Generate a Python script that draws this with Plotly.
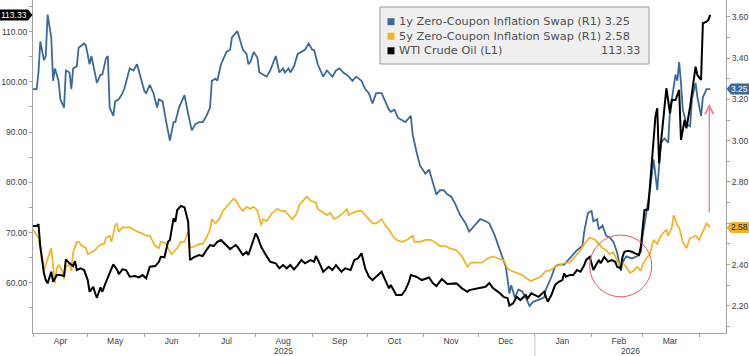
import pandas as pd
import plotly.graph_objects as go

# ---------------- data ----------------
START = pd.Timestamp("2025-04-01")
END = pd.Timestamp("2026-04-15 16:00")

BLUE_DAYS = [0,2,3,4,6,7,8,10,11,12,14,15,17,18,20,21,22,24,25,28,29,31,32,34,35,37,38,40,41,42,44,45,47,49,50,53,55,57,59,61,62,64,66,68,69,71,73,75,77,78,80,81,83,85,87,89,91,93,95,97,98,100,101,103,106,108,109,112,113,115,117,118,119,121,123,124,126,128,130,133,135,137,138,140,141,143,145,147,149,151,153,154,156,159,161,162,164,166,168,170,173,175,177,180,182,184,186,188,191,193,195,196,198,200,202,204,207,208,210,212,215,217,218,221,223,225,227,229,231,234,237,239,242,245,248,250,253,255,257,259,260,261,262,264,266,268,270,272,274,277,280,281,284,286,288,291,292,295,298,301,302,304,306,307,309,310,312,314,316,318,320,322,323,325,328,331,333,334,336,338,340,341,342,344,346,348,349,350,352,353,354,355,356,358,360,361,363,364,366,367,369,371]
BLUE_VALS = [3.25,3.25,3.33,3.48,3.39,3.41,3.61,3.50,3.29,3.35,3.29,3.20,3.16,3.34,3.33,3.25,3.35,3.36,3.45,3.47,3.46,3.37,3.41,3.31,3.28,3.32,3.32,3.40,3.41,3.16,3.12,3.19,3.20,3.23,3.25,3.35,3.34,3.37,3.31,3.24,3.23,3.27,3.23,3.16,3.20,3.19,3.09,3.00,3.09,3.09,3.16,3.18,3.22,3.13,3.05,3.08,3.09,3.09,3.12,3.16,3.29,3.30,3.29,3.37,3.43,3.44,3.50,3.53,3.50,3.44,3.42,3.37,3.38,3.43,3.40,3.33,3.32,3.31,3.34,3.41,3.33,3.35,3.33,3.35,3.33,3.36,3.42,3.43,3.44,3.47,3.44,3.44,3.37,3.31,3.34,3.33,3.31,3.34,3.35,3.33,3.31,3.29,3.31,3.29,3.25,3.23,3.18,3.23,3.23,3.19,3.15,3.14,3.15,3.11,3.10,3.09,3.12,3.03,2.95,2.88,2.84,2.86,2.83,2.74,2.76,2.76,2.74,2.73,2.70,2.64,2.60,2.56,2.59,2.62,2.61,2.60,2.54,2.49,2.44,2.39,2.33,2.26,2.30,2.24,2.28,2.27,2.24,2.20,2.22,2.23,2.24,2.28,2.34,2.39,2.40,2.40,2.41,2.44,2.47,2.49,2.56,2.65,2.66,2.61,2.62,2.57,2.59,2.54,2.53,2.51,2.46,2.37,2.41,2.44,2.43,2.44,2.46,2.54,2.65,2.76,2.91,2.82,2.76,2.99,3.01,2.99,3.15,3.20,3.32,3.29,3.38,3.28,3.15,3.08,3.07,3.20,3.28,3.21,3.12,3.21,3.25,3.25]

YELLOW_DAYS = [0,2,3,5,6,7,9,10,12,13,14,16,17,18,20,21,22,24,25,27,29,30,32,34,36,38,39,40,42,43,45,46,47,49,51,53,55,57,60,62,64,66,67,69,70,71,73,74,76,77,79,81,83,85,86,89,91,93,95,97,98,100,102,104,106,108,110,112,113,115,117,119,121,123,125,126,128,131,134,136,138,140,142,144,146,148,150,152,155,156,159,161,163,165,167,170,172,173,175,178,180,182,184,186,188,191,193,195,197,199,202,205,208,209,212,215,218,220,223,226,228,232,235,237,238,240,243,246,249,252,255,258,260,262,265,268,271,273,275,278,281,283,286,289,292,294,297,300,302,305,308,311,312,314,316,318,320,322,323,325,327,329,331,333,334,336,338,340,342,344,345,347,348,350,351,353,354,356,358,360,361,363,365,367,369,370,371]
YELLOW_VALS = [2.57,2.54,2.53,2.44,2.37,2.40,2.45,2.48,2.31,2.38,2.40,2.37,2.33,2.39,2.40,2.37,2.46,2.51,2.51,2.49,2.48,2.45,2.46,2.47,2.49,2.50,2.50,2.53,2.54,2.51,2.59,2.60,2.56,2.58,2.58,2.58,2.57,2.56,2.55,2.54,2.54,2.51,2.49,2.48,2.51,2.51,2.50,2.48,2.45,2.46,2.48,2.51,2.51,2.56,2.48,2.49,2.50,2.50,2.53,2.57,2.62,2.60,2.62,2.66,2.68,2.70,2.72,2.70,2.68,2.66,2.68,2.67,2.68,2.66,2.59,2.62,2.61,2.65,2.67,2.66,2.66,2.64,2.62,2.64,2.69,2.71,2.73,2.71,2.70,2.67,2.65,2.64,2.65,2.62,2.63,2.65,2.67,2.64,2.65,2.66,2.66,2.64,2.62,2.60,2.60,2.62,2.59,2.57,2.54,2.52,2.51,2.52,2.54,2.51,2.51,2.52,2.52,2.51,2.49,2.49,2.48,2.47,2.44,2.41,2.39,2.41,2.41,2.41,2.43,2.44,2.43,2.42,2.38,2.37,2.36,2.35,2.33,2.32,2.33,2.34,2.37,2.37,2.39,2.40,2.41,2.41,2.44,2.47,2.50,2.53,2.52,2.49,2.48,2.47,2.45,2.46,2.42,2.39,2.41,2.39,2.36,2.37,2.39,2.37,2.40,2.43,2.45,2.52,2.50,2.54,2.55,2.57,2.54,2.58,2.64,2.59,2.58,2.51,2.48,2.53,2.53,2.54,2.52,2.56,2.60,2.59,2.58]

BLACK_DAYS = [0,2,3,4,6,7,8,10,11,13,15,17,18,20,22,23,24,26,28,30,31,33,34,35,37,38,40,42,44,46,47,49,51,53,56,58,60,62,64,67,69,70,72,74,75,77,78,79,81,83,85,86,88,91,93,95,97,99,101,103,106,108,111,112,115,117,118,120,122,123,125,127,130,133,135,137,139,141,143,145,147,149,152,154,155,157,159,162,164,166,169,171,174,176,178,180,182,184,186,188,191,193,195,196,199,202,204,206,207,210,213,217,219,221,224,227,229,232,235,238,239,242,245,248,250,252,255,258,260,261,263,265,267,270,271,273,275,277,279,280,282,284,286,288,290,291,292,294,296,298,300,302,303,305,306,307,309,310,311,313,315,317,319,320,322,323,324,326,328,330,332,333,334,335,337,338,340,341,342,343,344,346,347,349,350,352,354,355,357,358,360,362,363,364,366,367,369,370,371]
BLACK_VALS = [71.30,71.30,71.69,67.17,61.87,60.54,59.88,62.19,60.20,61.53,61.53,61.33,64.66,63.87,63.33,64.32,62.53,62.87,62.53,60.54,58.21,59.20,58.01,57.01,59.08,58.21,60.20,61.87,63.67,62.67,61.73,62.67,62.53,61.20,61.33,61.08,61.53,60.88,63.19,63.33,64.18,65.18,65.06,68.17,68.51,72.83,72.15,74.48,75.28,75.02,72.15,64.52,65.06,65.52,65.32,66.51,67.51,67.31,68.17,68.51,67.31,66.71,67.51,67.17,65.52,66.18,65.52,67.85,69.84,69.16,67.17,65.86,64.18,63.87,62.87,63.53,62.87,63.53,62.67,63.53,64.52,63.87,64.52,64.18,65.32,63.87,62.19,63.19,62.53,63.53,62.19,62.87,62.53,64.52,64.86,65.86,62.87,61.20,60.54,61.20,62.19,60.54,58.89,59.54,57.55,57.55,58.55,60.20,61.53,61.20,60.54,61.04,59.94,59.34,60.74,59.74,59.74,59.88,58.89,58.21,58.55,58.75,58.89,59.20,59.94,58.95,58.15,57.15,56.95,55.46,55.90,57.21,56.55,57.55,56.89,57.89,57.55,57.21,57.89,58.21,56.22,57.55,59.54,60.20,60.54,61.87,61.20,61.53,61.53,62.53,62.19,63.53,64.52,65.18,63.87,62.53,63.87,64.52,63.87,65.18,64.18,64.52,64.18,63.19,62.87,65.18,66.18,66.38,66.18,65.86,65.52,67.17,71.16,74.48,74.62,79.12,87.09,93.07,94.74,83.79,87.77,94.40,98.73,93.75,96.39,96.39,98.39,88.43,92.41,90.76,95.06,100.38,103.03,101.37,100.38,111.67,111.99,112.33,113.33]

assert len(BLUE_DAYS) == len(BLUE_VALS)
assert len(YELLOW_DAYS) == len(YELLOW_VALS)
assert len(BLACK_DAYS) == len(BLACK_VALS)

NAMES = ["1y Zero-Coupon Inflation Swap (R1)", "5y Zero-Coupon Inflation Swap (R1)", "WTI Crude Oil (L1)"]
MONTH_LABELS = ["Apr", "May", "Jun", "Jul", "Aug", "Sep", "Oct", "Nov", "Dec", "Jan", "Feb", "Mar"]
MONTH_STARTS = pd.date_range("2025-04-01", "2026-04-01", freq="MS")
R_TICKS = [2.2, 2.4, 2.6, 2.8, 3.0, 3.2, 3.4, 3.6]
R_HIDDEN = [2.6]          # label covered by the 5y value tag in the reference
L_TICKS = [60, 70, 80, 90, 100, 110]
R_RANGE = [2.069, 3.681]
L_RANGE = [50.0, 116.3]

# ---------------- style / layout ----------------
W, H = 749, 356
ML, MR, MT, MB = 33, 23, 0, 23
PW, PH = W - ML - MR, H - MT - MB
BLUE = "#3b6a98"
YELLOW = "#f0b323"
BLACK = "#000000"
AXIS = "#a3a3a3"
TXT = "#3c3c3c"
TICKFONT = dict(family="Liberation Sans", size=8.5, color=TXT)


def to_dates(days):
    return [START + pd.Timedelta(days=d) for d in days]


def xp(px):
    return (px - ML) / PW


def yp(py):
    return (MT + PH - py) / PH


fig = go.Figure()
fig.add_trace(go.Scatter(x=to_dates(BLUE_DAYS), y=BLUE_VALS, mode="lines", yaxis="y",
                         line=dict(color=BLUE, width=1.8), name=NAMES[0]))
fig.add_trace(go.Scatter(x=to_dates(YELLOW_DAYS), y=YELLOW_VALS, mode="lines", yaxis="y",
                         line=dict(color=YELLOW, width=1.7), name=NAMES[1]))
fig.add_trace(go.Scatter(x=to_dates(BLACK_DAYS), y=BLACK_VALS, mode="lines", yaxis="y2",
                         line=dict(color=BLACK, width=2.0), name=NAMES[2]))

mid_months = [m + pd.Timedelta(days=15) for m in MONTH_STARTS[:-1]]

fig.update_layout(
    width=W, height=H,
    margin=dict(l=ML, r=MR, t=MT, b=MB),
    plot_bgcolor="white", paper_bgcolor="white",
    showlegend=False,
    xaxis=dict(
        type="date", range=[START, END], showgrid=False, zeroline=False,
        showline=True, linecolor=AXIS, linewidth=1,
        tickmode="array", tickvals=mid_months, ticktext=MONTH_LABELS,
        ticks="", tickfont=TICKFONT,
        minor=dict(tickmode="array", tickvals=list(MONTH_STARTS), ticks="outside",
                   ticklen=3, tickcolor=AXIS, tickwidth=1),
    ),
    yaxis=dict(
        side="right", range=R_RANGE, showgrid=False, zeroline=False,
        showline=True, linecolor=AXIS, linewidth=1,
        tickmode="array", tickvals=R_TICKS,
        ticktext=["" if v in R_HIDDEN else f"{v:.2f}" for v in R_TICKS],
        ticks="outside", ticklen=3, tickcolor=AXIS, tickfont=TICKFONT,
        minor=dict(tickmode="array", tickvals=[round(v + 0.1, 2) for v in [2.0] + R_TICKS],
                   ticks="outside", ticklen=3, tickcolor=AXIS),
    ),
    yaxis2=dict(
        side="left", overlaying="y", range=L_RANGE, showgrid=False, zeroline=False,
        showline=True, linecolor=AXIS, linewidth=1,
        tickmode="array", tickvals=L_TICKS, ticktext=[f"{v:.2f}" for v in L_TICKS],
        ticks="outside", ticklen=3, tickcolor=AXIS, tickfont=TICKFONT,
        minor=dict(tickmode="array", tickvals=[v - 5 for v in L_TICKS] + [115],
                   ticks="outside", ticklen=3, tickcolor=AXIS),
    ),
)

shapes = []
annotations = []

# year separator + year labels
shapes.append(dict(type="line", xref="x", yref="paper", x0=pd.Timestamp("2026-01-01"),
                   x1=pd.Timestamp("2026-01-01"), y0=0, y1=-MB / PH,
                   line=dict(color="#c8c8c8", width=1)))
for label, a, b in [("2025", START, pd.Timestamp("2026-01-01")),
                    ("2026", pd.Timestamp("2026-01-01"), END)]:
    annotations.append(dict(text=label, xref="x", yref="paper", x=a + (b - a) / 2, y=0,
                            yanchor="top", yshift=-11, showarrow=False, font=TICKFONT))

# legend box
shapes.append(dict(type="rect", xref="paper", yref="paper", x0=xp(380), x1=xp(649),
                   y0=yp(64), y1=yp(7), fillcolor="#efefef",
                   line=dict(color="#9a9a9a", width=1), layer="above"))
LEG_FONT = dict(family="DejaVu Sans", size=11.3, color="#505050")
rows = [(21.7, BLUE, f"{NAMES[0]} {BLUE_VALS[-1]:.2f}", None),
        (36.2, YELLOW, f"{NAMES[1]} {YELLOW_VALS[-1]:.2f}", None),
        (50.8, BLACK, NAMES[2], f"{BLACK_VALS[-1]:.2f}")]
for ry, col, txt, val in rows:
    shapes.append(dict(type="rect", xref="paper", yref="paper", x0=xp(387.5), x1=xp(394.5),
                       y0=yp(ry + 3.5), y1=yp(ry - 3.5), fillcolor=col, line=dict(width=0),
                       layer="above"))
    annotations.append(dict(text=txt, xref="paper", yref="paper", x=xp(396.5), y=yp(ry),
                            xanchor="left", yanchor="middle", showarrow=False, font=LEG_FONT))
    if val is not None:
        annotations.append(dict(text=val, xref="paper", yref="paper", x=xp(643), y=yp(ry),
                                xanchor="right", yanchor="middle", showarrow=False, font=LEG_FONT))


# value tags on the axes
def r_pix(v):
    return MT + PH * (1 - (v - R_RANGE[0]) / (R_RANGE[1] - R_RANGE[0]))


def l_pix(v):
    return MT + PH * (1 - (v - L_RANGE[0]) / (L_RANGE[1] - L_RANGE[0]))


def right_tag(v, bg, fg):
    py = r_pix(v)
    h = 5.5
    path = (f"M {xp(726.5)},{yp(py)} L {xp(731)},{yp(py - h)} L {xp(750)},{yp(py - h)} "
            f"L {xp(750)},{yp(py + h)} L {xp(731)},{yp(py + h)} Z")
    shapes.append(dict(type="path", xref="paper", yref="paper", path=path,
                       fillcolor=bg, line=dict(width=0), layer="above"))
    annotations.append(dict(text=f"{v:.2f}", xref="paper", yref="y", x=xp(740), y=v,
                            xanchor="center", yanchor="middle", showarrow=False,
                            font=dict(family="Liberation Sans", size=8.5, color=fg)))


def left_tag(v, bg, fg):
    py = l_pix(v)
    h = 5.5
    path = (f"M {xp(32.5)},{yp(py)} L {xp(28)},{yp(py - h)} L {xp(-1)},{yp(py - h)} "
            f"L {xp(-1)},{yp(py + h)} L {xp(28)},{yp(py + h)} Z")
    shapes.append(dict(type="path", xref="paper", yref="paper", path=path,
                       fillcolor=bg, line=dict(width=0), layer="above"))
    annotations.append(dict(text=f"{v:.2f}", xref="paper", yref="y2", x=xp(14), y=v,
                            xanchor="center", yanchor="middle", showarrow=False,
                            font=dict(family="Liberation Sans", size=8.5, color=fg)))


right_tag(BLUE_VALS[-1], BLUE, "white")
right_tag(YELLOW_VALS[-1], YELLOW, "#1a1a1a")
left_tag(BLACK_VALS[-1], BLACK, "white")

# red circle around the Feb divergence
shapes.append(dict(type="circle", xref="x", yref="y2",
                   x0=pd.Timestamp("2026-01-31"), x1=pd.Timestamp("2026-03-06"),
                   y0=57.2, y1=69.5, line=dict(color="#e55a5a", width=1)))

# pink arrow pointing up
annotations.append(dict(text="", xref="x", yref="y2", x=pd.Timestamp("2026-04-06 12:00"), y=95.6,
                        ax=0, ay=110, axref="pixel", ayref="pixel", showarrow=True,
                        arrowhead=5, arrowsize=1.3, arrowwidth=1.3, arrowcolor="#f07a8f",
                        standoff=0))

fig.update_layout(shapes=shapes, annotations=annotations)
fig.write_html(
    "out.html",
    config={"displayModeBar": False},
    post_script="document.body.style.margin='0';document.body.style.overflow='hidden';",
)
